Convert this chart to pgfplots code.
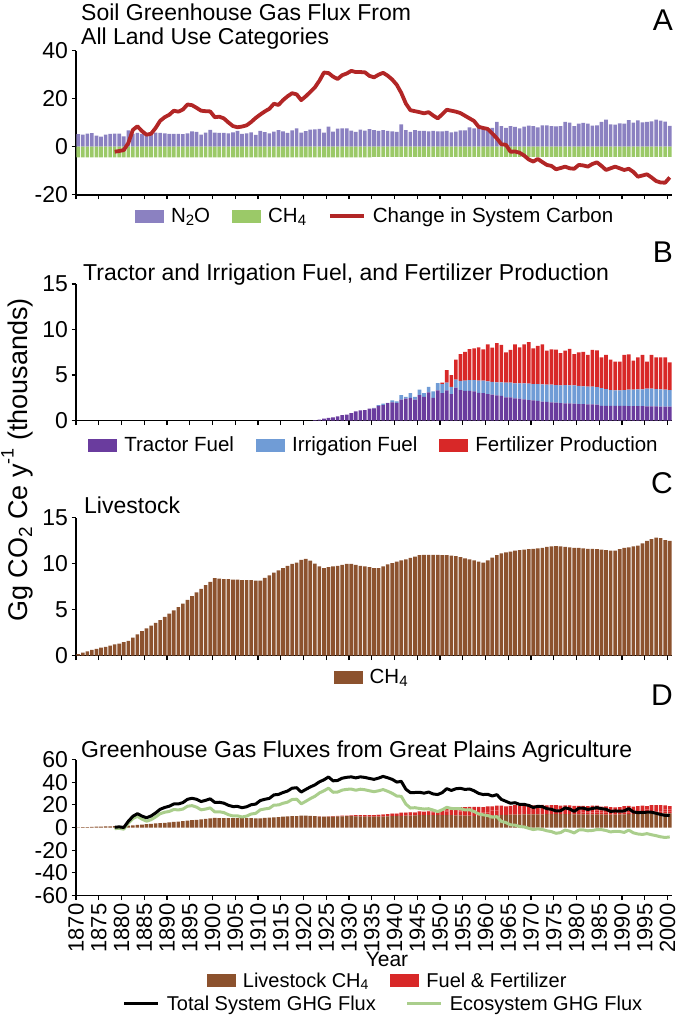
\documentclass[border=0pt]{standalone}
\usepackage{fontspec}
\setmainfont{Liberation Sans}
\usepackage{pgfplots}
\usepackage{pgfplotstable}
\pgfplotsset{compat=1.18}

\definecolor{nto}{RGB}{139,129,193}
\definecolor{chs}{RGB}{155,201,104}
\definecolor{carb}{RGB}{178,38,38}
\definecolor{trac}{RGB}{106,60,158}
\definecolor{irr}{RGB}{112,156,214}
\definecolor{fert}{RGB}{216,40,40}
\definecolor{live}{RGB}{140,82,46}
\definecolor{eco}{RGB}{170,206,140}

\newcommand\tsub[1]{\raisebox{-0.32ex}{\fontsize{15}{15}\selectfont #1}}
\newcommand\dsub[1]{\raisebox{-0.2ex}{\fontsize{14}{14}\selectfont #1}}
\newcommand\tfont{\fontsize{23}{26}\selectfont}
\newcommand\lfont{\fontsize{30}{32}\selectfont}

\pgfplotstableread{
yr n m t i f l c e g
1870 5.2 -4.4 0 0 0 0.15 nan nan nan
1871 5.0 -4.4 0 0 0 0.30 nan nan nan
1872 5.4 -4.4 0 0 0 0.45 nan nan nan
1873 5.7 -4.4 0 0 0 0.60 nan nan nan
1874 4.6 -4.4 0 0 0 0.72 nan nan nan
1875 4.2 -4.4 0 0 0 0.85 nan nan nan
1876 5.0 -4.4 0 0 0 0.95 nan nan nan
1877 5.3 -4.4 0 0 0 1.08 nan nan nan
1878 5.5 -4.4 0 0 0 1.20 -2.1 -1.0 0.2
1879 5.5 -4.4 0 0 0 1.30 -1.8 -0.7 0.6
1880 4.3 -4.4 0 0 0 1.45 -1.4 -1.5 0.0
1881 6.8 -4.4 0 0 0 1.60 1.5 3.9 5.5
1882 5.3 -4.4 0 0 0 1.95 7.0 7.9 9.9
1883 5.8 -4.4 0 0 0 2.30 8.5 9.9 12.2
1884 5.3 -4.4 0 0 0 2.65 6.5 7.4 10.1
1885 5.0 -4.4 0 0 0 2.95 5.0 5.6 8.6
1886 5.9 -4.4 0 0 0 3.25 5.4 6.9 10.2
1887 5.9 -4.4 0 0 0 3.55 7.8 9.3 12.9
1888 5.8 -4.4 0 0 0 3.85 10.8 12.2 16.1
1889 5.6 -4.4 0 0 0 4.20 12.3 13.5 17.7
1890 5.3 -4.4 0 0 0 4.55 13.3 14.2 18.8
1891 5.3 -4.4 0 0 0 4.90 15.0 15.9 20.8
1892 5.3 -4.4 0 0 0 5.25 14.6 15.5 20.8
1893 5.2 -4.4 0 0 0 5.65 15.5 16.3 22.0
1894 5.6 -4.4 0 0 0 6.05 17.6 18.8 24.9
1895 6.4 -4.4 0 0 0 6.45 17.3 19.3 25.8
1896 6.2 -4.4 0 0 0 6.85 16.2 18.0 24.9
1897 5.0 -4.4 0 0 0 7.25 15.0 15.6 22.9
1898 5.9 -4.4 0 0 0 7.65 14.8 16.3 24.0
1899 7.0 -4.4 0 0 0 8.00 14.7 17.3 25.3
1900 5.9 -4.4 0 0 0 8.40 12.3 13.8 22.2
1901 5.8 -4.4 0 0 0 8.35 12.5 13.9 22.3
1902 5.8 -4.4 0 0 0 8.30 11.8 13.2 21.5
1903 5.6 -4.4 0 0 0 8.30 10.1 11.3 19.6
1904 6.0 -4.4 0 0 0 8.25 8.6 10.2 18.5
1905 6.6 -4.4 0 0 0 8.25 8.1 10.3 18.6
1906 5.3 -4.4 0 0 0 8.20 8.4 9.3 17.5
1907 5.6 -4.4 0 0 0 8.20 8.9 10.1 18.3
1908 6.0 -4.4 0 0 0 8.20 10.3 11.9 20.1
1909 4.9 -4.4 0 0 0 8.15 12.0 12.5 20.7
1910 6.6 -4.4 0 0 0 8.15 13.4 15.6 23.8
1911 6.1 -4.4 0 0 0 8.45 14.7 16.4 24.9
1912 5.6 -4.4 0 0 0 8.70 15.8 17.0 25.7
1913 6.3 -4.4 0 0 0 9.00 17.9 19.8 28.8
1914 6.9 -4.4 0 0 0 9.25 17.4 19.9 29.2
1915 6.4 -4.4 0 0 0 9.50 19.4 21.4 30.9
1916 5.8 -4.4 0 0 0 9.75 21.0 22.4 32.2
1917 6.8 -4.4 0 0 0 9.95 22.3 24.7 34.7
1918 7.6 -4.4 0 0 0 10.10 21.8 25.0 35.1
1919 5.9 -4.4 0 0 0 10.40 19.4 20.9 31.3
1920 6.5 -4.4 0 0 0 10.50 21.0 23.1 33.6
1921 7.1 -4.4 0 0 0 10.30 22.8 25.5 35.8
1922 7.2 -4.4 0.05 0 0 10.00 24.7 27.5 37.6
1923 7.4 -4.4 0.10 0 0 9.70 27.5 30.5 40.3
1924 5.9 -4.4 0.20 0 0 9.50 30.9 32.4 42.1
1925 8.4 -4.4 0.30 0 0 9.60 30.7 34.7 44.6
1926 6.3 -4.4 0.35 0 0 9.70 29.2 31.1 41.2
1927 7.5 -4.4 0.45 0 0 9.75 28.2 31.3 41.5
1928 7.6 -4.4 0.60 0 0 9.85 29.8 33.0 43.5
1929 7.6 -4.4 0.65 0 0 9.95 30.5 33.7 44.3
1930 6.7 -4.4 0.80 0 0 9.95 31.6 33.9 44.7
1931 6.2 -4.4 1.00 0 0 9.85 31.1 32.9 43.8
1932 7.1 -4.4 1.10 0 0 9.75 31.1 33.8 44.7
1933 6.7 -4.4 1.15 0 0 9.70 31.0 33.3 44.2
1934 7.3 -4.4 1.30 0 0 9.60 29.5 32.4 43.3
1935 6.9 -4.2 1.34 0.05 0 9.50 28.9 31.6 42.5
1936 6.6 -4.2 1.60 0.10 0 9.50 30.0 32.4 43.6
1937 6.9 -4.2 1.70 0.15 0 9.70 30.8 33.5 45.1
1938 6.6 -4.2 1.90 0.05 0 9.90 29.6 32.0 43.9
1939 6.4 -4.2 2.00 0.20 0 10.05 28.0 30.2 42.5
1940 6.2 -4.2 1.90 0.20 0 10.20 25.8 27.8 40.1
1941 9.3 -4.2 2.30 0.50 0 10.35 22.4 27.5 40.7
1942 6.9 -4.2 2.40 0.20 0 10.45 18.0 20.7 33.8
1943 6.2 -4.2 2.50 0.50 0 10.60 15.2 17.2 30.8
1944 6.9 -4.2 2.30 0.30 0 10.75 14.8 17.5 30.9
1945 6.6 -4.2 2.80 0.60 0 10.90 14.4 16.8 31.1
1946 6.6 -4.2 2.60 0.40 0 10.95 13.9 16.3 30.3
1947 6.4 -4.2 3.10 0.60 0 10.95 14.4 16.6 31.3
1948 6.6 -4.2 2.50 0.70 0 10.95 13.0 15.4 29.6
1949 6.4 -4.2 3.30 0.80 0 10.95 11.8 14.0 29.1
1950 6.4 -4.2 3.00 1.00 0.15 10.90 13.5 15.7 30.8
1951 6.6 -4.2 3.30 0.85 1.40 10.90 15.4 17.8 34.3
1952 6.0 -4.2 2.90 0.80 1.30 10.85 15.0 16.8 32.7
1953 6.3 -4.2 3.60 0.90 2.20 10.80 14.6 16.7 34.2
1954 6.8 -4.2 3.35 1.00 2.95 10.70 14.0 16.6 34.6
1955 6.8 -4.2 3.25 1.12 3.18 10.55 12.9 15.5 33.6
1956 8.1 -4.2 3.25 1.20 3.40 10.45 11.8 15.7 34.0
1957 7.6 -4.2 3.20 1.25 3.48 10.35 10.7 14.1 32.4
1958 7.8 -4.2 3.05 1.32 3.67 10.20 8.3 11.9 30.1
1959 7.6 -4.2 3.00 1.37 3.45 10.10 7.8 11.2 29.1
1960 7.4 -4.2 2.90 1.40 4.07 10.35 7.4 10.6 29.3
1961 7.8 -4.2 2.85 1.40 3.75 10.65 5.5 9.1 27.8
1962 10.3 -4.2 2.77 1.43 4.30 10.90 3.5 9.6 29.0
1963 8.6 -4.2 2.70 1.50 4.10 11.10 1.0 5.4 24.8
1964 7.8 -4.2 2.55 1.60 3.35 11.20 0.8 4.4 23.1
1965 8.6 -4.2 2.55 1.60 3.60 11.30 -2.1 2.3 21.4
1966 8.3 -4.2 2.44 1.64 4.29 11.40 -2.0 2.1 21.9
1967 7.6 -4.2 2.40 1.68 3.96 11.45 -2.5 0.9 20.4
1968 8.4 -4.2 2.33 1.75 4.29 11.50 -3.7 0.5 20.4
1969 8.8 -4.2 2.25 1.80 4.55 11.55 -5.3 -0.7 19.5
1970 8.6 -4.2 2.20 1.80 3.93 11.60 -6.2 -1.8 17.7
1971 8.1 -4.2 2.15 1.85 4.20 11.65 -5.1 -1.2 18.7
1972 8.9 -4.2 2.07 1.90 4.40 11.70 -6.4 -1.7 18.4
1973 8.9 -4.2 2.04 1.90 3.73 11.80 -7.6 -2.9 16.6
1974 8.6 -4.2 2.00 1.94 3.88 11.85 -8.0 -3.6 16.1
1975 8.5 -4.2 1.96 1.94 3.90 11.90 -9.4 -5.1 14.6
1976 8.6 -4.2 1.92 1.94 3.54 11.85 -8.9 -4.5 14.8
1977 10.3 -4.2 1.88 2.00 3.80 11.80 -8.3 -2.2 17.3
1978 10.0 -4.2 1.88 1.98 4.00 11.75 -9.0 -3.2 16.4
1979 8.6 -4.2 1.85 2.00 3.45 11.70 -9.2 -4.8 14.2
1980 9.6 -4.2 1.80 2.00 3.70 11.70 -7.6 -2.2 17.0
1981 9.9 -4.2 1.80 1.95 3.80 11.65 -7.8 -2.1 17.1
1982 9.6 -4.2 1.77 1.94 3.49 11.60 -8.3 -2.9 15.9
1983 8.8 -4.2 1.77 1.94 4.04 11.60 -7.2 -2.6 16.8
1984 8.9 -4.2 1.74 1.93 4.05 11.55 -6.5 -1.8 17.5
1985 10.3 -4.2 1.60 1.95 3.40 11.50 -8.0 -1.9 16.6
1986 11.3 -4.2 1.60 1.84 3.76 11.45 -9.7 -2.6 16.1
1987 9.3 -4.2 1.60 1.75 3.35 11.40 -9.0 -3.9 14.2
1988 9.2 -4.2 1.60 1.70 3.17 11.40 -8.3 -3.3 14.6
1989 9.7 -4.2 1.60 1.70 3.17 11.55 -9.0 -3.5 14.5
1990 9.6 -4.2 1.60 1.75 3.85 11.70 -9.7 -4.3 14.6
1991 11.1 -4.2 1.59 1.80 3.87 11.75 -9.2 -2.3 16.7
1992 10.0 -4.2 1.59 1.80 3.20 11.85 -10.5 -4.7 13.7
1993 11.0 -4.2 1.59 1.82 3.54 11.95 -12.5 -5.7 13.2
1994 10.1 -4.2 1.58 1.85 3.77 12.20 -12.0 -6.1 13.3
1995 10.3 -4.2 1.55 1.95 2.97 12.45 -11.5 -5.4 13.5
1996 10.6 -4.2 1.55 1.95 3.70 12.65 -12.8 -6.4 13.5
1997 11.3 -4.2 1.55 1.90 3.50 12.80 -14.3 -7.2 12.6
1998 10.9 -4.2 1.52 1.90 3.53 12.75 -14.9 -8.2 11.5
1999 10.4 -4.2 1.52 1.86 3.57 12.55 -15.0 -8.8 10.7
2000 8.7 -4.2 1.52 1.83 3.05 12.45 -12.8 -8.3 10.6
}\data

\pgfplotsset{
 legstyle/.style={draw=none, fill=none, legend columns=-1,
    font=\fontsize{20.5}{22}\selectfont,
    /tikz/every odd column/.append style={column sep=5pt},
    /tikz/every even column/.append style={column sep=20pt},
    cells={anchor=west}},
 panel/.style={scale only axis, width=596pt, xmin=1870, xmax=2001,
  axis x line=bottom, axis y line=left,
  axis line style={-, line width=1.6pt, black},
  tick align=outside, major tick length=4.5pt,
  tick style={line width=1.2pt, black},
  xtick={1870,1875,...,2000},
  ticklabel style={font=\fontsize{23}{24}\selectfont},
  /pgf/number format/assume math mode=true,
  /pgf/number format/1000 sep={},
  legend style={legstyle},
 },
 barimg/.style={legend image code/.code={\fill[##1] (0pt,-6.5pt) rectangle (29pt,6.5pt);}},
 lineimg/.style={legend image code/.code={\draw[##1] (0pt,0pt) -- (34pt,0pt);}},
}

\begin{document}
\begin{tikzpicture}
\path[use as bounding box] (0,0) rectangle (680pt,-1015pt);

% ---------------- Panel A
\begin{axis}[panel, at={(76pt,-194.7pt)}, anchor=south west, height=144pt,
  ymin=-20, ymax=40, ytick={-20,0,20,40}, xticklabels={},
  legend style={at={(0.502,-0.148)}, anchor=center}]
\addplot[ybar, bar width=0.8, bar shift=0pt, fill=nto, draw=none, barimg]
  table[x expr=\thisrow{yr}+0.5, y=n] {\data};
\addlegendentry{N\tsub{2}O}
\addplot[ybar, bar width=0.8, bar shift=0pt, fill=chs, draw=none, barimg]
  table[x expr=\thisrow{yr}+0.5, y=m] {\data};
\addlegendentry{CH\tsub{4}}
\addplot[carb, line width=3.8pt, line join=round, lineimg]
  table[x expr=\thisrow{yr}+0.5, y=c] {\data};
\addlegendentry{Change in System Carbon}
\end{axis}

% ---------------- Panel B
\begin{axis}[panel, at={(76pt,-420.5pt)}, anchor=south west, height=136.5pt,
  ymin=0, ymax=15, ytick={0,5,10,15}, xticklabels={},
  ybar stacked, bar width=0.8,
  legend style={at={(0.50,-0.18)}, anchor=center}]
\addplot[fill=trac, draw=none, barimg] table[x expr=\thisrow{yr}+0.5, y=t] {\data};
\addlegendentry{Tractor Fuel}
\addplot[fill=irr, draw=none, barimg] table[x expr=\thisrow{yr}+0.5, y=i] {\data};
\addlegendentry{Irrigation Fuel}
\addplot[fill=fert, draw=none, barimg] table[x expr=\thisrow{yr}+0.5, y=f] {\data};
\addlegendentry{Fertilizer Production}
\end{axis}

% ---------------- Panel C
\begin{axis}[panel, at={(76pt,-655.5pt)}, anchor=south west, height=138pt,
  ymin=0, ymax=15, ytick={0,5,10,15}, xticklabels={},
  legend style={at={(0.496,-0.156)}, anchor=center}]
\addplot[ybar, bar width=0.8, bar shift=0pt, fill=live, draw=none, barimg]
  table[x expr=\thisrow{yr}+0.5, y=l] {\data};
\addlegendentry{CH\tsub{4}}
\end{axis}

% ---------------- Panel D (bars)
\begin{axis}[panel, at={(76pt,-895.5pt)}, anchor=south west, height=136pt,
  ymin=-60, ymax=60, ytick={-60,-40,...,60},
  xticklabel style={rotate=90, anchor=east, font=\fontsize{22}{24}\selectfont},
  ybar stacked, bar width=0.8,
  legend style={font=\fontsize{20}{21}\selectfont, at={(0.523,-0.625)}, anchor=center}]
\addplot[fill=live, draw=none, barimg] table[x expr=\thisrow{yr}+0.5, y=l] {\data};
\addlegendentry{Livestock CH\dsub{4}}
\addplot[fill=fert, draw=none, barimg] table[x expr=\thisrow{yr}+0.5, y=t] {\data};
\addlegendentry{Fuel \& Fertilizer}
\addplot[fill=fert, draw=none] table[x expr=\thisrow{yr}+0.5, y=i] {\data};
\addplot[fill=fert, draw=none] table[x expr=\thisrow{yr}+0.5, y=f] {\data};
\end{axis}

% ---------------- Panel D (lines)
\begin{axis}[scale only axis, width=596pt, height=136pt,
  at={(76pt,-895.5pt)}, anchor=south west,
  xmin=1870, xmax=2001, ymin=-60, ymax=60, hide axis,
  legend style={legstyle, font=\fontsize{20}{21}\selectfont,
    /tikz/every even column/.append style={column sep=28pt},
    at={(0.516,-0.795)}, anchor=center},
  reverse legend]
\addplot[eco, line width=3pt, line join=round, lineimg]
  table[x expr=\thisrow{yr}+0.5, y=e] {\data};
\addlegendentry{Ecosystem GHG Flux}
\addplot[black, line width=3pt, line join=round, lineimg]
  table[x expr=\thisrow{yr}+0.5, y=g] {\data};
\addlegendentry{Total System GHG Flux}
\end{axis}

% ---------------- Texts
\node[anchor=base west, inner sep=0pt] at (81pt,-20.5pt) {\tfont Soil Greenhouse Gas Flux From};
\node[anchor=base west, inner sep=0pt] at (81pt,-44pt) {\tfont All Land Use Categories};
\node[anchor=base west, inner sep=0pt] at (83pt,-280pt) {\tfont Tractor and Irrigation Fuel, and Fertilizer Production};
\node[anchor=base west, inner sep=0pt] at (84pt,-513pt) {\tfont Livestock};
\node[anchor=base west, inner sep=0pt] at (81pt,-757pt) {\tfont Greenhouse Gas Fluxes from Great Plains Agriculture};

\node[anchor=base east, inner sep=0pt] at (673pt,-30pt) {\lfont A};
\node[anchor=base east, inner sep=0pt] at (673pt,-262pt) {\lfont B};
\node[anchor=base east, inner sep=0pt] at (673pt,-493pt) {\lfont C};
\node[anchor=base east, inner sep=0pt] at (673pt,-705pt) {\lfont D};

\node[rotate=90, anchor=center, inner sep=0pt] at (17pt,-460pt)
  {\fontsize{27}{30}\selectfont Gg CO\raisebox{-0.35ex}{\fontsize{19}{19}\selectfont 2} Ce y\raisebox{0.95ex}{\fontsize{18}{18}\selectfont -1} (thousands)};
\node[anchor=base, inner sep=0pt] at (387pt,-966pt) {\fontsize{21}{24}\selectfont Year};
\end{tikzpicture}
\end{document}
